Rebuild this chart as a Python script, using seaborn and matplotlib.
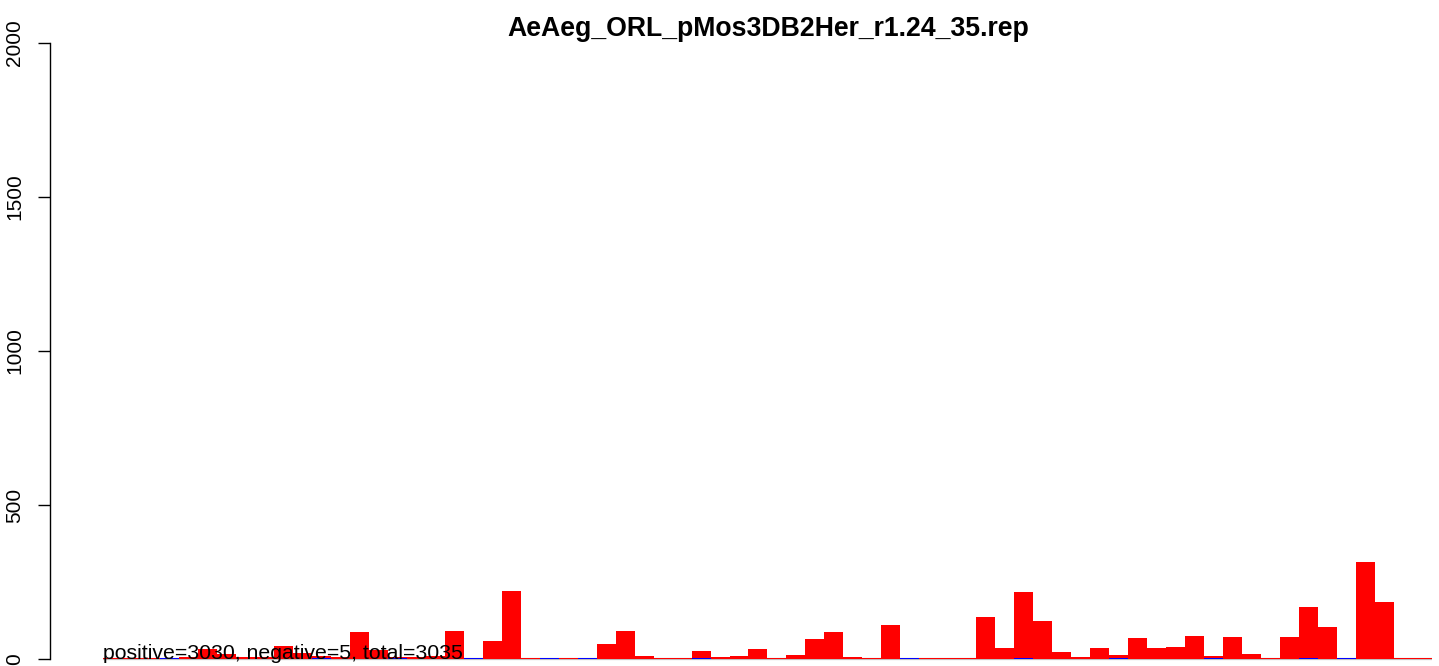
import matplotlib
matplotlib.use("Agg")
import matplotlib.pyplot as plt
import seaborn as sns
import pandas as pd

title = "AeAeg_ORL_pMos3DB2Her_r1.24_35.rep"
summary = "positive=3030, negative=5, total=3035"

bins = list(range(70))
positive = [3, 3, 3, 3, 5, 34, 15, 6, 6,
            43, 20, 10, 5, 89, 30, 5, 5, 10,
            92, 3, 60, 222, 4, 3, 4, 4, 50,
            92, 11, 4, 4, 27, 8, 11, 34, 4,
            14, 66, 89, 8, 3, 112, 3, 3, 3,
            3, 137, 37, 219, 124, 24, 8, 37, 14,
            69, 37, 40, 76, 11, 72, 17, 4, 72,
            169, 104, 3, 315, 185, 3, 3]
neg_bins = [3, 11, 15, 19, 23, 25, 31, 42, 48, 53, 58, 63, 65]
negative = [4 if b in neg_bins else 0 for b in bins]

yticks = [0, 500, 1000, 1500, 2000]

df = pd.DataFrame({"bin": bins, "positive": positive, "negative": negative})

sns.set_style("white")
plt.rcParams["font.family"] = ["Liberation Sans", "DejaVu Sans"]
plt.rcParams["text.color"] = "black"

W, H, DPI = 1439, 666, 100
fig = plt.figure(figsize=(W / DPI, H / DPI), dpi=DPI)

ax_left_px, ax_top_px = 50, 18
bar0_px, bar_w_px = 103, 18.985
y0_px, ypx_per_unit = 659, 616 / 2000

ax = fig.add_axes([ax_left_px / W, 0, 1 - ax_left_px / W, (H - ax_top_px) / H])

ax.hlines(0, -0.5, len(bins) - 0.5, color="#BEBEBE", lw=1.6, zorder=0)
sns.barplot(data=df, x="bin", y="positive", color="#FF0000", saturation=1,
            width=1, linewidth=0, errorbar=None, ax=ax, zorder=2)
sns.barplot(data=df, x="bin", y="negative", color="#0000FF", saturation=1,
            width=1, linewidth=0, errorbar=None, ax=ax, zorder=3)

xl = -0.5 - (bar0_px - ax_left_px) / bar_w_px
xr = -0.5 + (W - bar0_px) / bar_w_px
ax.set_xlim(xl, xr)
ax.set_ylim(-(H - y0_px) / ypx_per_unit, (y0_px - ax_top_px) / ypx_per_unit)

for s in ["top", "right", "bottom"]:
    ax.spines[s].set_visible(False)
ax.spines["left"].set_bounds(0, 2000)
ax.spines["left"].set_color("black")
ax.spines["left"].set_linewidth(1.0)
ax.set_xticks([])
ax.set_yticks(yticks)
ax.set_yticklabels([str(v) for v in yticks], rotation=90, va="center", fontsize=15)
ax.tick_params(axis="y", length=8.9, width=1.0, color="black", labelcolor="black",
               pad=9.6, left=True)
ax.set_xlabel("")
ax.set_ylabel("")
ax.patch.set_alpha(0)

ax.text(-0.5, 0, summary, ha="left", va="baseline", fontsize=15.3, color="black", zorder=5)
fig.text(768 / W, 1 - 29 / H, title, ha="center", va="center", fontsize=19.2,
         fontweight="bold", color="black")

fig.savefig("out.png", dpi=DPI)
